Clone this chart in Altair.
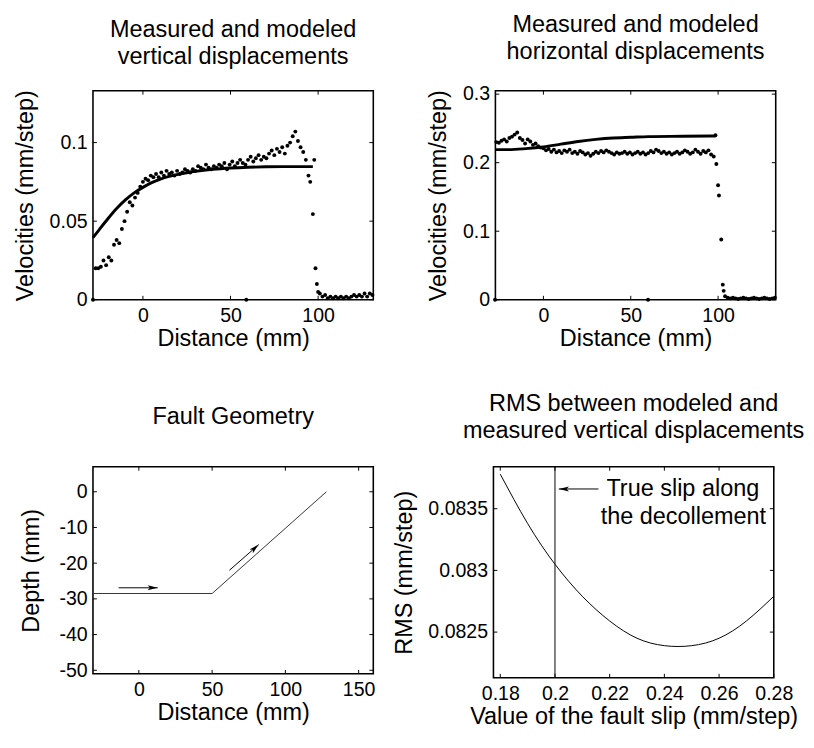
import altair as alt
import pandas as pd

FONT = "Liberation Sans"

# ---------------- data: top-left (vertical displacements) ----------------
vert_meas_x = [-28.5, -27.0, -25.5, -24.0, -22.5, -21.0, -19.5, -18.0, -16.5, -15.0, -13.5, -12.0,
               -10.5, -9.0, -7.5, -6.0, -4.5, -3.0, -1.5, 0.0, 1.5, 3.0, 4.5, 6.0, 7.5, 9.0, 10.5,
               12.0, 13.5, 15.0, 16.5, 18.0, 19.5, 21.0, 22.5, 24.0, 25.5, 27.0, 28.5, 30.0, 31.5,
               33.0, 34.5, 36.0, 37.5, 39.0, 40.5, 42.0, 43.5, 45.0, 46.5, 48.0, 49.5, 51.0, 52.5,
               54.0, 55.5, 57.0, 58.5, 59.0, 60.0, 61.5, 63.0, 64.5, 66.0, 67.5, 69.0, 70.5, 72.0,
               73.5, 75.0, 76.5, 78.0, 79.5, 81.0, 82.5, 84.0, 85.5, 87.0, 88.5, 90.0, 91.5, 93.0,
               94.5, 95.5, 97.0, 97.8, 98.5, 99.3, 100.0, 101.0, 102.5, 104.0, 105.5, 107.0, 108.5,
               110.0, 111.5, 113.0, 114.5, 116.0, 117.5, 119.0, 120.5, 122.0, 123.5, 125.0, 126.5,
               128.0, 129.5, 131.0]
vert_meas_y = [0.0, 0.020, 0.020, 0.021, 0.025, 0.022, 0.027, 0.025, 0.035, 0.038, 0.036, 0.045,
               0.050, 0.056, 0.062, 0.060, 0.065, 0.068, 0.072, 0.075, 0.077, 0.076, 0.079, 0.078,
               0.080, 0.078, 0.081, 0.079, 0.082, 0.080, 0.081, 0.079, 0.082, 0.080, 0.081, 0.083,
               0.082, 0.081, 0.083, 0.082, 0.085, 0.084, 0.083, 0.086, 0.084, 0.083, 0.085, 0.084,
               0.086, 0.085, 0.087, 0.083, 0.086, 0.088, 0.085, 0.087, 0.089, 0.087, 0.086, 0.0,
               0.089, 0.091, 0.088, 0.090, 0.092, 0.089, 0.091, 0.090, 0.093, 0.095, 0.092, 0.096,
               0.094, 0.097, 0.093, 0.098, 0.100, 0.104, 0.107, 0.101, 0.097, 0.094, 0.089, 0.079,
               0.075, 0.0545, 0.089, 0.020, 0.010, 0.005, 0.004, 0.002, 0.003, 0.001, 0.002, 0.001,
               0.002, 0.001, 0.002, 0.001, 0.002, 0.001, 0.002, 0.003, 0.002, 0.003, 0.002, 0.004,
               0.002, 0.004, 0.003]
vert_model_x = [-28.5, -25, -20, -15, -10, -5, 0, 5, 10, 15, 20, 25, 30, 40, 50, 60, 70, 80, 90, 97]
vert_model_y = [0.0395, 0.0445, 0.0515, 0.058, 0.0635, 0.068, 0.0715, 0.0745, 0.0768, 0.0785,
                0.0798, 0.0808, 0.0817, 0.083, 0.0838, 0.0843, 0.0846, 0.0847, 0.0847, 0.0847]

# ---------------- data: top-right (horizontal displacements) ----------------
hor_meas_x = [-27.7, -27.0, -25.5, -24.0, -22.5, -21.0, -19.5, -18.0, -16.5, -15.0, -13.5, -12.0,
              -10.5, -9.0, -7.5, -6.0, -4.5, -3.0, -1.5, 0.0, 1.5, 3.0, 4.5, 6.0, 7.5, 9.0, 10.5,
              12.0, 13.5, 15.0, 16.5, 18.0, 19.5, 21.0, 22.5, 24.0, 25.5, 27.0, 28.5, 30.0, 31.5,
              33.0, 34.5, 36.0, 37.5, 39.0, 40.5, 42.0, 43.5, 45.0, 46.5, 48.0, 49.5, 51.0, 52.5,
              54.0, 55.5, 57.0, 58.5, 59.9, 60.0, 61.5, 63.0, 64.5, 66.0, 67.5, 69.0, 70.5, 72.0,
              73.5, 75.0, 76.5, 78.0, 79.5, 81.0, 82.5, 84.0, 85.5, 87.0, 88.5, 90.0, 91.5, 93.0,
              94.5, 96.0, 97.5, 98.5, 99.0, 100.0, 100.5, 101.8, 102.7, 103.2, 104.0, 105.5, 107.0,
              108.5, 110.0, 111.5, 113.0, 114.5, 116.0, 117.5, 119.0, 120.5, 122.0, 123.5, 125.0,
              126.5, 128.0, 129.5, 131.0, 132.5]
hor_meas_y = [0.0, 0.230, 0.229, 0.232, 0.234, 0.231, 0.236, 0.238, 0.241, 0.244, 0.236, 0.233,
              0.228, 0.234, 0.231, 0.226, 0.228, 0.224, 0.222, 0.221, 0.218, 0.220, 0.216, 0.219,
              0.215, 0.217, 0.214, 0.218, 0.216, 0.219, 0.214, 0.216, 0.213, 0.217, 0.215, 0.212,
              0.214, 0.210, 0.213, 0.216, 0.214, 0.217, 0.215, 0.218, 0.216, 0.214, 0.212, 0.215,
              0.213, 0.214, 0.216, 0.213, 0.215, 0.212, 0.214, 0.216, 0.213, 0.215, 0.212, 0.0,
              0.214, 0.217, 0.215, 0.219, 0.217, 0.214, 0.216, 0.213, 0.215, 0.212, 0.214, 0.216,
              0.213, 0.215, 0.218, 0.216, 0.213, 0.215, 0.219, 0.216, 0.213, 0.217, 0.215, 0.218,
              0.212, 0.209, 0.240, 0.198, 0.167, 0.152, 0.088, 0.022, 0.013, 0.005, 0.003, 0.002,
              0.003, 0.002, 0.001, 0.002, 0.003, 0.002, 0.001, 0.002, 0.003, 0.002, 0.001, 0.002,
              0.003, 0.002, 0.001, 0.002, 0.003]
hor_model_x = [-27.5, -20, -10, 0, 10, 20, 30, 40, 50, 60, 80, 98.5]
hor_model_y = [0.219, 0.219, 0.2205, 0.223, 0.227, 0.231, 0.234, 0.236, 0.237, 0.238, 0.2385, 0.239]

# ---------------- data: bottom-left (fault geometry) ----------------
fault_x = [-31.3, 50, 128]
fault_y = [-28.5, -28.5, 0]
arrow_x1 = [-13.8, 61.8]
arrow_y1 = [-26.9, -22.0]
arrow_x2 = [12.9, 81.8]
arrow_y2 = [-26.9, -14.8]
arrow_angle = [90, 48]

# ---------------- data: bottom-right (RMS) ----------------
slip_x = [0.18, 0.19, 0.20, 0.21, 0.22, 0.23, 0.24, 0.25, 0.26, 0.27, 0.28]
rms_y = [0.08378, 0.08338, 0.08305, 0.08279, 0.08259, 0.08245, 0.08239, 0.08239,
         0.08245, 0.08259, 0.08279]
true_slip = [0.2]
note_lines = ["True slip along", "the decollement"]
note_x = [0.2188, 0.2167]
note_y = [0.08366, 0.08343]
note_arrow_x1 = [0.2159]
note_arrow_x2 = [0.2014]
note_arrow_y = [0.08366]

# ---------------- axis ticks ----------------
tl_xticks = [0, 50, 100]
tl_yticks = [0, 0.05, 0.1]
tr_xticks = [0, 50, 100]
tr_yticks = [0, 0.1, 0.2, 0.3]
bl_xticks = [0, 50, 100, 150]
bl_yticks = [0, -10, -20, -30, -40, -50]
br_xticks = [0.18, 0.2, 0.22, 0.24, 0.26, 0.28]
br_yticks = [0.0825, 0.083, 0.0835]

ARROW = "M0,0 L0.42,1.7 L0,1.3 L-0.42,1.7 Z"

W = 287
LBL = 20
TTL = 24


def axis(title, values, lp, tp):
    return alt.Axis(title=title, values=values, labelExpr="toString(datum.value)",
                    ticks=False, domain=False, grid=False,
                    labelFont=FONT, labelFontSize=LBL, labelColor="black", labelPadding=lp,
                    titleFont=FONT, titleFontSize=TTL, titleFontWeight="normal",
                    titleColor="black", titlePadding=tp, labelFlush=False, labelOverlap=False)


def xaxis(title, values):
    return axis(title, values, 6, 2)


def yaxis(title, values, tp=12):
    return axis(title, values, 6, tp)


def inward_ticks(xvals, yvals, xs, ys, xa, ya, w, h, L=4):
    dx = pd.DataFrame({"v": xvals})
    dy = pd.DataFrame({"v": yvals})
    xe = alt.X("v:Q", scale=xs, axis=xa)
    ye = alt.Y("v:Q", scale=ys, axis=ya)
    bx = alt.Chart(dx).mark_rule(color="black", strokeWidth=1)
    by = alt.Chart(dy).mark_rule(color="black", strokeWidth=1)
    return [
        bx.encode(x=xe, y=alt.value(h), y2=alt.value(h - L)),
        bx.encode(x=xe, y=alt.value(0), y2=alt.value(L)),
        by.encode(y=ye, x=alt.value(0), x2=alt.value(L)),
        by.encode(y=ye, x=alt.value(w), x2=alt.value(w - L)),
    ]


def title(lines, offset):
    return alt.Title(text=lines, font=FONT, fontSize=TTL, fontWeight="normal", color="black",
                     lineHeight=28, offset=offset, anchor="middle")


# ---- top-left ----
H1 = 214
xs1 = alt.Scale(domain=[-28.5, 131.5], nice=False, zero=False)
ys1 = alt.Scale(domain=[0, 0.133], nice=False, zero=False)
xa1 = xaxis("Distance (mm)", tl_xticks)
ya1 = yaxis("Velocities (mm/step)", tl_yticks)
d1 = pd.DataFrame({"x": vert_meas_x, "y": vert_meas_y})
m1 = pd.DataFrame({"x": vert_model_x, "y": vert_model_y})
pts1 = alt.Chart(d1).mark_circle(color="black", size=16, opacity=1).encode(
    x=alt.X("x:Q", scale=xs1, axis=xa1), y=alt.Y("y:Q", scale=ys1, axis=ya1))
ln1 = alt.Chart(m1).mark_line(color="black", strokeWidth=3, interpolate="monotone").encode(
    x=alt.X("x:Q", scale=xs1, axis=xa1), y=alt.Y("y:Q", scale=ys1, axis=ya1))
A = alt.layer(pts1, ln1, *inward_ticks(tl_xticks, tl_yticks, xs1, ys1, xa1, ya1, W, H1)).properties(
    width=W, height=H1, title=title(["Measured and modeled", "vertical displacements"], 21))

# ---- top-right ----
xs2 = alt.Scale(domain=[-27.5, 133], nice=False, zero=False)
ys2 = alt.Scale(domain=[0, 0.305], nice=False, zero=False)
xa2 = xaxis("Distance (mm)", tr_xticks)
ya2 = yaxis("Velocities (mm/step)", tr_yticks)
d2 = pd.DataFrame({"x": hor_meas_x, "y": hor_meas_y})
m2 = pd.DataFrame({"x": hor_model_x, "y": hor_model_y})
pts2 = alt.Chart(d2).mark_circle(color="black", size=16, opacity=1).encode(
    x=alt.X("x:Q", scale=xs2, axis=xa2), y=alt.Y("y:Q", scale=ys2, axis=ya2))
ln2 = alt.Chart(m2).mark_line(color="black", strokeWidth=3, interpolate="monotone").encode(
    x=alt.X("x:Q", scale=xs2, axis=xa2), y=alt.Y("y:Q", scale=ys2, axis=ya2))
B = alt.layer(pts2, ln2, *inward_ticks(tr_xticks, tr_yticks, xs2, ys2, xa2, ya2, W, H1)).properties(
    width=W, height=H1, title=title(["Measured and modeled", "horizontal displacements"], 21))

# ---- bottom-left ----
H3 = 212
xs3 = alt.Scale(domain=[-31.3, 160], nice=False, zero=False)
ys3 = alt.Scale(domain=[-51, 7], nice=False, zero=False)
xa3 = xaxis("Distance (mm)", bl_xticks)
ya3 = yaxis("Depth (mm)", bl_yticks, tp=16)
f3 = pd.DataFrame({"x": fault_x, "y": fault_y})
a3 = pd.DataFrame({"x1": arrow_x1, "y1": arrow_y1, "x2": arrow_x2, "y2": arrow_y2,
                   "ang": arrow_angle})
fl3 = alt.Chart(f3).mark_line(color="#333333", strokeWidth=1).encode(
    x=alt.X("x:Q", scale=xs3, axis=xa3), y=alt.Y("y:Q", scale=ys3, axis=ya3))
ar3 = alt.Chart(a3).mark_rule(color="black", strokeWidth=1).encode(
    x=alt.X("x1:Q", scale=xs3, axis=xa3), y=alt.Y("y1:Q", scale=ys3, axis=ya3), x2="x2:Q", y2="y2:Q")
hd3 = alt.Chart(a3).mark_point(shape=ARROW, filled=True, color="black", size=150,
                               opacity=1, strokeWidth=0).encode(
    x=alt.X("x2:Q", scale=xs3, axis=xa3), y=alt.Y("y2:Q", scale=ys3, axis=ya3),
    angle=alt.Angle("ang:Q", scale=None))
C = alt.layer(fl3, ar3, hd3, *inward_ticks(bl_xticks, bl_yticks, xs3, ys3, xa3, ya3, W, H3)).properties(
    width=W, height=H3, title=title(["Fault Geometry"], 38))

# ---- bottom-right ----
H4 = 216
xs4 = alt.Scale(domain=[0.1775, 0.28], nice=False, zero=False)
ys4 = alt.Scale(domain=[0.08213, 0.08384], nice=False, zero=False)
xa4 = xaxis("Value of the fault slip (mm/step)", br_xticks)
ya4 = yaxis("RMS (mm/step)", br_yticks)
r4 = pd.DataFrame({"x": slip_x, "y": rms_y})
v4 = pd.DataFrame({"x": true_slip})
n4 = pd.DataFrame({"x": note_x, "y": note_y, "t": note_lines})
na4 = pd.DataFrame({"x1": note_arrow_x1, "x2": note_arrow_x2, "y": note_arrow_y, "ang": [270]})
cv4 = alt.Chart(r4).mark_line(color="black", strokeWidth=1, interpolate="natural").encode(
    x=alt.X("x:Q", scale=xs4, axis=xa4), y=alt.Y("y:Q", scale=ys4, axis=ya4))
vl4 = alt.Chart(v4).mark_rule(color="black", strokeWidth=1).encode(
    x=alt.X("x:Q", scale=xs4, axis=xa4))
tx4 = alt.Chart(n4).mark_text(font=FONT, fontSize=24, align="left", baseline="middle",
                              color="black").encode(
    x=alt.X("x:Q", scale=xs4, axis=xa4), y=alt.Y("y:Q", scale=ys4, axis=ya4), text="t:N")
na_line = alt.Chart(na4).mark_rule(color="black", strokeWidth=1).encode(
    x=alt.X("x1:Q", scale=xs4, axis=xa4), x2="x2:Q", y=alt.Y("y:Q", scale=ys4, axis=ya4))
na_head = alt.Chart(na4).mark_point(shape=ARROW, filled=True, color="black", size=150,
                                    opacity=1, strokeWidth=0).encode(
    x=alt.X("x2:Q", scale=xs4, axis=xa4), y=alt.Y("y:Q", scale=ys4, axis=ya4),
    angle=alt.Angle("ang:Q", scale=None))
D = alt.layer(cv4, vl4, na_line, na_head, tx4,
              *inward_ticks(br_xticks, br_yticks, xs4, ys4, xa4, ya4, W, H4)).properties(
    width=W, height=H4, title=title(["RMS between modeled and", "measured vertical displacements"], 24))

row1 = alt.hconcat(A, B, spacing=125, bounds="flush")
row2 = alt.hconcat(C, D, spacing=123, bounds="flush")
chart = alt.vconcat(row1, row2, spacing=40).properties(
    padding={"left": 5, "top": -5, "right": 0, "bottom": 0}, background="white"
).configure_view(stroke="black", strokeWidth=1.6).configure_axis(labelFont=FONT, titleFont=FONT)

chart.save("out.html", embed_options={"renderer": "svg", "actions": False})
